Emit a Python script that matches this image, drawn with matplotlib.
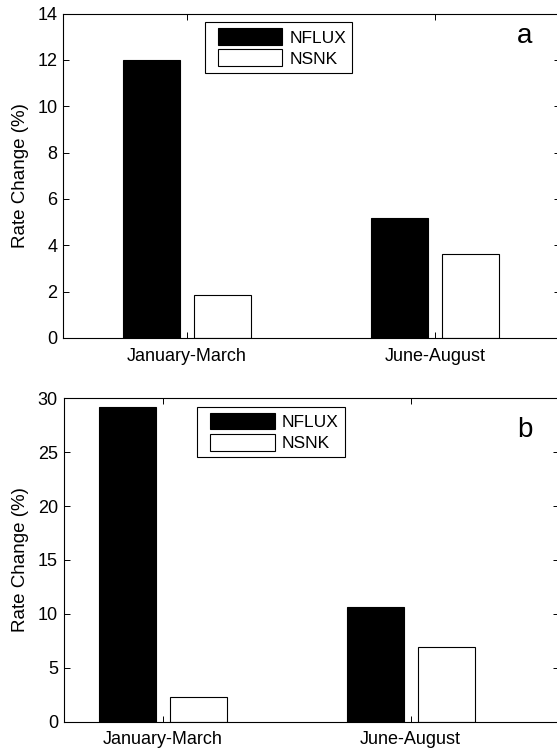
import matplotlib
matplotlib.use("Agg")
import matplotlib.pyplot as plt
from matplotlib.patches import Rectangle
from matplotlib.legend_handler import HandlerPatch
import numpy as np

plt.rcParams['font.family'] = ['Liberation Sans', 'DejaVu Sans']

categories = ["January-March", "June-August"]
series_names = ["NFLUX", "NSNK"]
a_nflux = [12.0, 5.18]
a_nsnk = [1.85, 3.61]
b_nflux = [29.2, 10.65]
b_nsnk = [2.31, 6.89]
a_yticks = [0, 2, 4, 6, 8, 10, 12, 14]
b_yticks = [0, 5, 10, 15, 20, 25, 30]

W, H = 557, 750
fig = plt.figure(figsize=(W / 100, H / 100), dpi=100)

INSET = 5.0  # px


def inset_rect(legend, orig_handle, xdescent, ydescent, width, height, fontsize):
    return Rectangle((-xdescent + INSET, -ydescent), width - INSET, height)


def px_axes(left, top, right, bottom):
    return fig.add_axes([left / W, 1 - bottom / H, (right - left) / W, (bottom - top) / H])


def panel(ax, nflux, nsnk, yticks, xlim, letter, leg_anchor, letter_pos):
    x = np.arange(len(categories))
    w = 0.23
    off = 0.143
    b1 = ax.bar(x - off, nflux, width=w, color='black', edgecolor='black', linewidth=0.8, label=series_names[0])
    b2 = ax.bar(x + off, nsnk, width=w, color='white', edgecolor='black', linewidth=0.8, label=series_names[1])
    ax.set_xlim(*xlim)
    ax.set_ylim(yticks[0], yticks[-1])
    ax.set_yticks(yticks)
    ax.set_xticks(x)
    ax.set_xticklabels(categories)
    ax.tick_params(direction='in', length=4, width=0.7, top=True, right=True, labelsize=13, colors='black')
    ax.tick_params(axis='x', pad=7)
    ax.tick_params(axis='y', pad=4)
    for s in ax.spines.values():
        s.set_linewidth(0.8)
    ax.set_ylabel("Rate Change (%)", fontsize=13.5, labelpad=6)
    leg = ax.legend([b1.patches[0], b2.patches[0]], series_names,
                    loc='upper left', bbox_to_anchor=leg_anchor, borderaxespad=0,
                    fontsize=12.5, handlelength=4.1, handleheight=1.1, handletextpad=0.4,
                    labelspacing=0.22, borderpad=0.35, fancybox=False, framealpha=1,
                    edgecolor='black',
                    handler_map={Rectangle: HandlerPatch(patch_func=inset_rect)})
    leg.get_frame().set_linewidth(0.8)
    ax.text(letter_pos[0], letter_pos[1], letter, transform=ax.transAxes, fontsize=20,
            ha='center', va='baseline')


ax1 = px_axes(63, 13.5, 559.5, 338)
panel(ax1, a_nflux, a_nsnk, a_yticks, (-0.5, 1.5), 'a', (0.286, 0.973), (0.93, 0.909))

ax2 = px_axes(63.5, 398.3, 559.5, 721.7)
panel(ax2, b_nflux, b_nsnk, b_yticks, (-0.4, 1.6), 'b', (0.270, 0.974), (0.931, 0.881))

fig.savefig("out.png", dpi=100)
